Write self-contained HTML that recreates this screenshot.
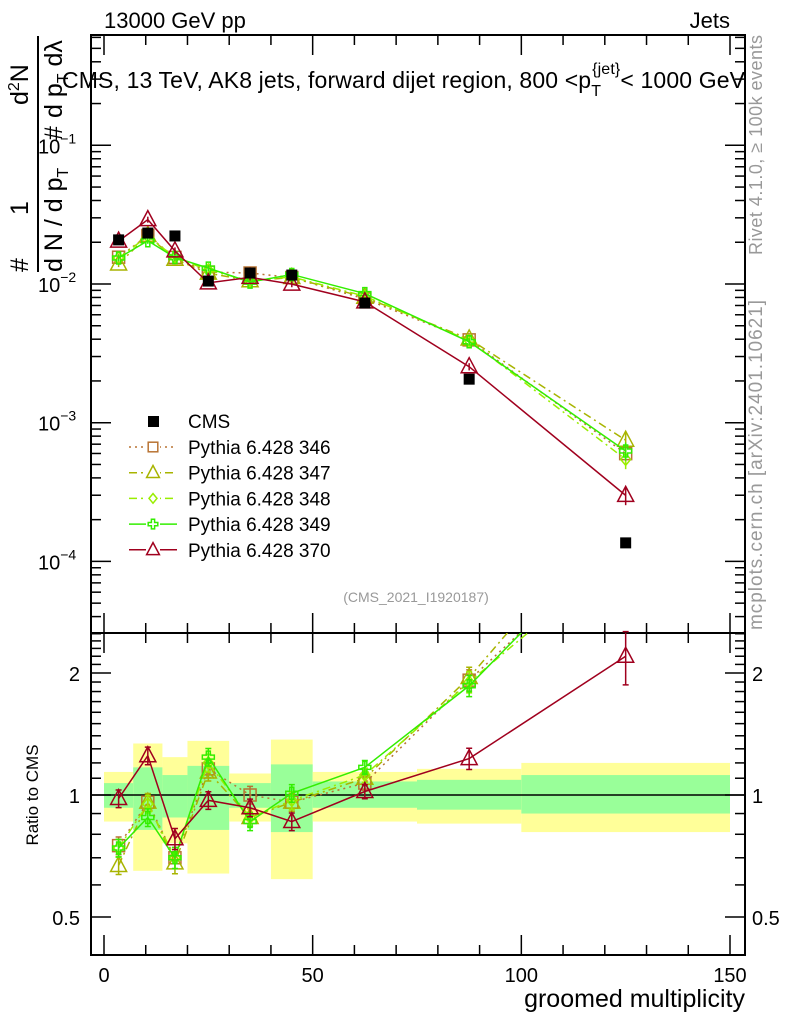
<!DOCTYPE html>
<html><head><meta charset="utf-8">
<style>
html,body{margin:0;padding:0;background:#fff;}
svg{display:block;font-family:"Liberation Sans",Arial,sans-serif;}
</style></head>
<body>
<svg id="chart" width="786" height="1024" viewBox="0 0 786 1024" xmlns="http://www.w3.org/2000/svg">
<rect x="0" y="0" width="786" height="1024" fill="#fff"/>
<g id="bands"></g>
<g id="axes"></g>
<g id="series"></g>
<text x="104" y="28" font-size="22">13000 GeV pp</text>
<text x="730" y="28" font-size="22" text-anchor="end">Jets</text>
<text x="62" y="88" font-size="23" textLength="683">CMS, 13 TeV, AK8 jets, forward dijet region, 800 &lt;p<tspan font-size="16" dy="8">T</tspan><tspan font-size="16" dy="-22" dx="-9">{jet}</tspan><tspan dy="14">&lt; 1000 GeV</tspan></text>
<text x="416" y="602" font-size="14" fill="#999" text-anchor="middle">(CMS_2021_I1920187)</text>
<text transform="translate(762,255) rotate(-90)" font-size="18" fill="#999" textLength="220">Rivet 4.1.0, ≥ 100k events</text>
<text transform="translate(762,630) rotate(-90)" font-size="19" fill="#999" textLength="330">mcplots.cern.ch [arXiv:2401.10621]</text>
<g font-size="25">
<text transform="translate(28,272) rotate(-90)">#</text>
<text transform="translate(28,215) rotate(-90)">1</text>
<line x1="38" y1="272" x2="38" y2="36" stroke="#000" stroke-width="2"/>
<text transform="translate(62,272) rotate(-90)">d N / d p<tspan font-size="16" dy="6">T</tspan></text>
<text transform="translate(62,140) rotate(-90)">#</text>
<text transform="translate(28,105) rotate(-90)">d<tspan font-size="16" dy="-9">2</tspan><tspan dy="9">N</tspan></text>
<text transform="translate(62,118) rotate(-90)">d p<tspan font-size="16" dy="6">T</tspan><tspan dy="-6"> dλ</tspan></text>
</g>
<text transform="translate(38,795) rotate(-90)" font-size="17" text-anchor="middle">Ratio to CMS</text>
<text x="745" y="1007" font-size="25" text-anchor="end">groomed multiplicity</text>
<g id="legend"></g>
</svg>
<script>
const binEdges=[0,7,14,20,30,40,50,75,100,150];
const xCenters=[3.5,10.5,17,25,35,45,62.5,87.5,125];
const cmsValues=[0.0208,0.0233,0.0222,0.0105,0.0120,0.0116,0.00729,0.00206,0.000136];
const yellowUp=[1.14,1.34,1.24,1.36,1.13,1.37,1.14,1.16,1.20];
const yellowDn=[0.86,0.65,0.76,0.64,0.86,0.62,0.86,0.85,0.81];
const greenUp=[1.07,1.17,1.12,1.18,1.07,1.19,1.08,1.09,1.12];
const greenDn=[0.93,0.82,0.88,0.82,0.93,0.81,0.93,0.92,0.90];
const ratio346=[0.75,0.96,0.70,1.16,1.00,0.96,1.07,1.92,4.4];
const ratio347=[0.67,0.96,0.68,1.14,0.88,0.96,1.10,1.95,5.5];
const ratio348=[0.74,0.95,0.70,1.20,0.88,0.97,1.12,1.90,4.0];
const ratio349=[0.74,0.88,0.70,1.24,0.86,1.01,1.17,1.86,4.6];
const ratio370=[0.98,1.25,0.78,0.97,0.93,0.86,1.02,1.23,2.2];
const ratioErr=[0.05,0.05,0.06,0.05,0.05,0.05,0.04,0.06,0.15];
const mainTickLabels=["-1","-2","-3","-4"];
const ratioTickLabels=["0.5","1","2"];
const ratioTickValues=[0.5,1,2];
const xTickValues=[0,50,100,150];

const NS="http://www.w3.org/2000/svg";
const L=91,R=745,T=35,MB=633,RB=955;
const xs=v=>104+v*(626/150);
const ym=v=>284-138.7*(Math.log10(v)+2);
const yr=v=>795-122*Math.log2(v);
function mk(tag,attrs,parent){const e=document.createElementNS(NS,tag);for(const k in attrs)e.setAttribute(k,attrs[k]);parent.appendChild(e);return e;}
const bands=document.getElementById('bands'),axes=document.getElementById('axes'),ser=document.getElementById('series'),leg=document.getElementById('legend');

for(let i=0;i<xCenters.length;i++){
 const x1=xs(binEdges[i]),x2=xs(binEdges[i+1]);
 const yb=mk('rect',{x:x1,y:yr(yellowUp[i]),width:x2-x1,height:yr(yellowDn[i])-yr(yellowUp[i]),fill:'#ffff99'},bands);
 
 
 const gb=mk('rect',{x:x1,y:yr(greenUp[i]),width:x2-x1,height:yr(greenDn[i])-yr(greenUp[i]),fill:'#99ff99'},bands);
 
 
}
mk('rect',{x:L,y:T,width:R-L,height:MB-T,fill:'none',stroke:'#000','stroke-width':2},axes);
mk('rect',{x:L,y:MB,width:R-L,height:RB-MB,fill:'none',stroke:'#000','stroke-width':2},axes);
mk('line',{x1:L,y1:yr(1),x2:R,y2:yr(1),stroke:'#000','stroke-width':1.5},axes);
for(let d=-5;d<=0;d++){for(let m=1;m<10;m++){const v=m*Math.pow(10,d);const y=ym(v);if(y<T||y>MB)continue;const len=m==1?20:10;
 mk('line',{x1:L,y1:y,x2:L+len,y2:y,stroke:'#000','stroke-width':1.5},axes);
 mk('line',{x1:R,y1:y,x2:R-len,y2:y,stroke:'#000','stroke-width':1.5},axes);}}
mainTickLabels.forEach(s=>{const y=ym(Math.pow(10,+s));const t=mk('text',{x:38,y:y+8,'font-size':20},axes);t.textContent='10';
 const sp=mk('tspan',{'font-size':14,dy:-10},t);sp.textContent=s.replace('-','−');
 
 });
for(let v=0.4;v<=2.6;v+=0.1){const y=yr(v);if(y<MB||y>RB)continue;const maj=[5,10,20].includes(Math.round(v*10));const len=maj?20:10;
 mk('line',{x1:L,y1:y,x2:L+len,y2:y,stroke:'#000','stroke-width':1.5},axes);
 mk('line',{x1:R,y1:y,x2:R-len,y2:y,stroke:'#000','stroke-width':1.5},axes);}
ratioTickLabels.forEach((s,i)=>{const y=yr(ratioTickValues[i])+8;
 const t=mk('text',{x:80,y:y,'font-size':20,'text-anchor':'end'},axes);t.textContent=s;
 
 
 const t2=mk('text',{x:752,y:y,'font-size':20},axes);t2.textContent=s;
 
 });
for(let v=0;v<=150;v+=10){const x=xs(v);const len=v%50==0?20:10;
 [[RB,-1],[MB,-1],[MB,1],[T,1]].forEach(([y0,s])=>mk('line',{x1:x,y1:y0,x2:x,y2:y0+s*len,stroke:'#000','stroke-width':1.5},axes));}
xTickValues.forEach(v=>{const t=mk('text',{x:xs(v),y:982,'font-size':20,'text-anchor':'middle'},axes);t.textContent=v;
 
 });

function clipR(v){return Math.max(MB,Math.min(RB,yr(v)));}
function marker(type,x,y,col,g,s){s=s||1;
 if(type=='sq')mk('rect',{x:x-6*s,y:y-6*s,width:12*s,height:12*s,fill:'none',stroke:col,'stroke-width':1.5},g);
 else if(type=='tri')mk('polygon',{points:`${x},${y-9*s} ${x-8*s},${y+6*s} ${x+8*s},${y+6*s}`,fill:'none',stroke:col,'stroke-width':1.5},g);
 else if(type=='dia')mk('polygon',{points:`${x},${y-6*s} ${x-5*s},${y} ${x},${y+6*s} ${x+5*s},${y}`,fill:'none',stroke:col,'stroke-width':1.5},g);
 else if(type=='plus')mk('path',{d:`M${x-6*s} ${y-2*s}h${4*s}v${-4*s}h${4*s}v${4*s}h${4*s}v${4*s}h${-4*s}v${4*s}h${-4*s}v${-4*s}h${-4*s}z`,fill:'none',stroke:col,'stroke-width':1.5},g);
}
const models=[
 {name:'Pythia 6.428 346',r:ratio346,col:'#b87333',dash:'2,4',m:'sq'},
 {name:'Pythia 6.428 347',r:ratio347,col:'#a8b400',dash:'8,4,2,4',m:'tri'},
 {name:'Pythia 6.428 348',r:ratio348,col:'#99ee00',dash:'8,4,2,4',m:'dia'},
 {name:'Pythia 6.428 349',r:ratio349,col:'#33ee00',dash:'',m:'plus'},
 {name:'Pythia 6.428 370',r:ratio370,col:'#a0001e',dash:'',m:'tri'}];
models.forEach((md,k)=>{
 const g=mk('g',{},ser);
 
 
 const main=md.r.map((r,i)=>[xs(xCenters[i]),ym(r*cmsValues[i])]);
 const rat=md.r.map((r,i)=>[xs(xCenters[i]),yr(r)]);
 const cp=mk('clipPath',{id:'cm'+k},g);mk('rect',{x:L,y:T,width:R-L,height:MB-T},cp);
 const cr=mk('clipPath',{id:'cr'+k},g);mk('rect',{x:L,y:MB,width:R-L,height:RB-MB},cr);
 mk('polyline',{points:main.map(p=>p.join(',')).join(' '),fill:'none',stroke:md.col,'stroke-width':1.5,'stroke-dasharray':md.dash,'clip-path':`url(#cm${k})`},g);
 mk('polyline',{points:rat.map(p=>p.join(',')).join(' '),fill:'none',stroke:md.col,'stroke-width':1.5,'stroke-dasharray':md.dash,'clip-path':`url(#cr${k})`},g);
 main.forEach(([x,y],i)=>{const e=ratioErr[i];const y1=ym(md.r[i]*(1+e)*cmsValues[i]),y2=ym(md.r[i]*(1-e)*cmsValues[i]);
  mk('line',{x1:x,y1:y1,x2:x,y2:y2,stroke:md.col,'stroke-width':1.5},g);marker(md.m,x,y,md.col,g);});
 rat.forEach(([x,y],i)=>{if(y<MB||y>RB)return;const e=ratioErr[i];const y1=yr(md.r[i]*(1+e)),y2=yr(md.r[i]*(1-e));
  mk('path',{d:`M${x} ${clipR(md.r[i]*(1+e))}V${clipR(md.r[i]*(1-e))}M${x-3} ${y1}h6M${x-3} ${y2}h6`,stroke:md.col,'stroke-width':1.5,fill:'none'},g);marker(md.m,x,y,md.col,g);});
 const ly=447+k*25.7;
 mk('line',{x1:129,y1:ly,x2:177,y2:ly,stroke:md.col,'stroke-width':1.5,'stroke-dasharray':md.dash},leg);
 mk('rect',{x:146,y:ly-7,width:14,height:14,fill:'#fff'},leg);
 marker(md.m,153,ly,md.col,leg,0.8);
 const t=mk('text',{x:188,y:ly+7,'font-size':19},leg);t.textContent=md.name;
 
 
});
const cg=mk('g',{},ser);


cmsValues.forEach((v,i)=>{const x=xs(xCenters[i]),y=ym(v);mk('rect',{x:x-5.5,y:y-5.5,width:11,height:11,fill:'#000'},cg);});
mk('rect',{x:148,y:416,width:11,height:11,fill:'#000'},leg);
const ct=mk('text',{x:188,y:428,'font-size':19},leg);ct.textContent='CMS';


</script>
</body></html>
